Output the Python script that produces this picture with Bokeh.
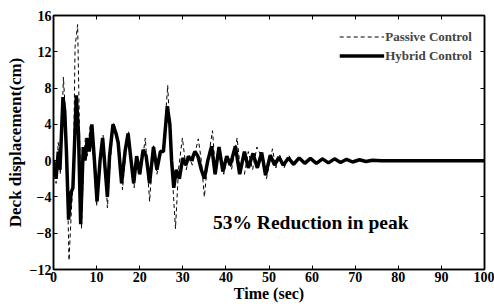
from bokeh.plotting import figure
from bokeh.models import LinearAxis, FixedTicker, Label, Legend, LegendItem, Range1d, CustomLabelingPolicy
from bokeh.embed import file_html
from bokeh.resources import INLINE

# Hybrid control response (time in sec, displacement in cm), read from peaks/troughs
hybrid_t = [0, 0.6, 1.1, 1.5, 2.2, 2.6, 3.0, 3.5, 4.1, 4.5, 5.3, 5.8, 6.3, 6.9, 7.3, 7.9, 8.3, 8.9,
            9.5, 10.1, 10.8, 11.4, 12.0, 12.5, 13.0, 13.8, 14.5, 15.0, 15.8, 16.6, 17.3, 18.0, 18.6,
            19.3, 20.0, 20.8, 21.5, 22.3, 23.2, 24.0, 24.8, 25.5, 26.4, 27.0, 27.4, 27.9, 28.5, 29.2,
            30.0, 30.7, 31.3, 32.0, 32.8, 33.5, 34.3, 35.0, 35.8, 36.7, 37.5, 38.4, 39.3, 40.2, 41.0,
            42.2, 43.2, 44.3, 45.2, 46.3, 47.3, 48.3, 49.2, 50.3, 51.3, 52.3, 53.3, 54.5, 55.7, 57.0,
            58.3, 59.6, 61.0, 62.4, 63.8, 65.2, 66.6, 68.0, 69.4, 71.0, 72.5, 74.0, 76.0, 100.0]
hybrid_v = [0, -2, 1, -1, 7, 5.5, 1, -6.5, -3.5, -3, 7.2, 3, -7, 1.5, 0, 2.5, 1, 4,
            0, -4.5, 0, 2.5, -1, -4, 0.5, 4, 3, 2, -2.5, 1, 3, 0, -2.5,
            0.5, -1.5, 1.2, 0.5, -2.5, 1.5, -1, 1, 1, 6, 4, 0, -3, -1, -2,
            0.3, -0.5, 0.5, 0, 1, 0.5, -1, -2, 0, 1.6, -1.5, 1.5, -1.2, 0.5, -0.5,
            1.6, -1.5, 1, -0.8, 0.8, -0.8, 0.9, -1.6, 0.6, -0.5, 0.4, -0.5, 0.3, -0.4, 0.3,
            -0.3, 0.25, -0.3, 0.2, -0.25, 0.2, -0.2, 0.15, -0.15, 0.1, -0.1, 0.05, 0, 0]

# Passive control response
passive_t = [0, 0.6, 1.1, 1.6, 2.3, 2.8, 3.1, 3.6, 4.2, 4.6, 5.0, 5.6, 6.0, 6.5, 7.0, 7.4, 7.8, 8.5,
             9.3, 10.0, 10.8, 11.5, 12.0, 12.5, 13.2, 13.9, 14.7, 15.3, 16.0, 16.8, 17.4, 18.1, 18.7,
             19.4, 20.2, 21.3, 22.3, 23.2, 24.0, 24.8, 25.5, 26.5, 27.2, 27.6, 28.3, 29.0, 29.9, 30.8,
             31.5, 32.2, 33.6, 34.3, 35.0, 35.8, 36.9, 37.6, 38.5, 39.5, 40.5, 41.3, 42.6, 43.4, 44.3,
             45.2, 46.2, 47.2, 48.2, 49.4, 50.8, 51.6, 52.5, 53.5, 54.6, 55.8, 57.0, 58.3, 59.6, 61.0,
             62.4, 63.8, 65.2, 66.6, 68.0, 69.4, 71.0, 72.5, 74.0, 75.5, 77.0, 100.0]
passive_v = [0, -2.5, 2, -1.5, 9.2, 5, 0, -11, -5, -2, 12.5, 15, 4, -7.5, 0, 2.5, 0.5, 3.8,
             0, -5, -0.5, 2.8, 0, -5.2, 0, 4.2, 3, 1.5, -3.2, 1, 3.3, 0, -3,
             0.5, -1.5, 2.5, -4.5, 1.8, -1.5, 1.2, 1.5, 8.3, 1, -2, -7.5, -1, 2.5, -1,
             0.5, -0.5, 2.4, 0, -4, 0, 3.3, -1.5, 1.5, -1.5, 0.5, -1, 2.5, -1.2, -1.5,
             1, -1, 1.5, 0.5, -2, 1.3, -0.8, 0.6, -0.8, 0.6, -0.6, 0.4, -0.4, 0.35, -0.35,
             0.3, -0.3, 0.25, -0.25, 0.2, -0.2, 0.15, -0.1, 0.1, -0.05, 0, 0]

x_ticks = [0, 10, 20, 30, 40, 50, 60, 70, 80, 90, 100]
y_ticks = [-12, -8, -4, 0, 4, 8, 12, 16]

FONT = "Liberation Serif"

p = figure(width=494, height=304, output_backend="svg", toolbar_location=None,
           x_range=Range1d(0, 100), y_range=Range1d(-12, 16),
           min_border_left=53, min_border_right=10, min_border_top=15, min_border_bottom=35)
p.grid.visible = False
p.outline_line_color = "black"
p.outline_line_width = 1.5
p.background_fill_color = "white"
p.border_fill_color = "white"

no_labels = CustomLabelingPolicy(code="""
for (const i of Array.from(indices)) { indices.unset(i) }
return indices
""")

def style_axis(ax, ticks, show_labels):
    ax.ticker = FixedTicker(ticks=ticks)
    ax.minor_tick_line_color = None
    ax.major_tick_in = 4
    ax.major_tick_out = 0
    ax.axis_line_color = "black"
    ax.axis_line_width = 1.5
    ax.major_tick_line_color = "black"
    ax.major_label_text_font = FONT
    ax.major_label_text_font_style = "bold"
    ax.major_label_text_font_size = "14px"
    ax.major_label_text_color = "black"
    ax.major_label_standoff = 2
    if not show_labels:
        ax.major_label_policy = no_labels
        ax.major_label_text_font_size = "1px"
        ax.major_label_standoff = 0

style_axis(p.xaxis[0], x_ticks, True)
style_axis(p.yaxis[0], y_ticks, True)
p.xaxis[0].axis_label = "Time (sec)"
p.yaxis[0].axis_label = "Deck displacement(cm)"
for ax in (p.xaxis[0], p.yaxis[0]):
    ax.axis_label_text_font = FONT
    ax.axis_label_text_font_style = "bold"
    ax.axis_label_text_font_size = "16px"
    ax.axis_label_standoff = 0
    ax.axis_label_text_color = "black"
p.yaxis[0].axis_label_text_font_size = "17px"
p.yaxis[0].axis_label_standoff = 2

top = LinearAxis()
style_axis(top, x_ticks, False)
p.add_layout(top, "above")
right = LinearAxis()
style_axis(right, y_ticks, False)
p.add_layout(right, "right")

r_passive = p.line(passive_t, passive_v, line_color="black", line_width=1, line_dash="4 3")
r_hybrid = p.line(hybrid_t, hybrid_v, line_color="black", line_width=3.5)

legend = Legend(items=[LegendItem(label="Passive Control", renderers=[r_passive]),
                       LegendItem(label="Hybrid Control", renderers=[r_hybrid])],
                location="top_right")
legend.label_text_font = FONT
legend.label_text_font_style = "bold"
legend.label_text_font_size = "13px"
legend.glyph_width = 45
legend.glyph_height = 19
legend.label_height = 19
legend.spacing = 0
legend.padding = 4
legend.margin = 8
legend.label_standoff = 1
legend.border_line_alpha = 0
legend.background_fill_alpha = 0
p.add_layout(legend)

p.add_layout(Label(x=37, y=-6.8, text="53% Reduction in peak", text_font=FONT,
                   text_font_style="bold", text_font_size="19.5px", text_baseline="middle",
                   text_color="black"))

open("out.html", "w").write(file_html(p, INLINE))
